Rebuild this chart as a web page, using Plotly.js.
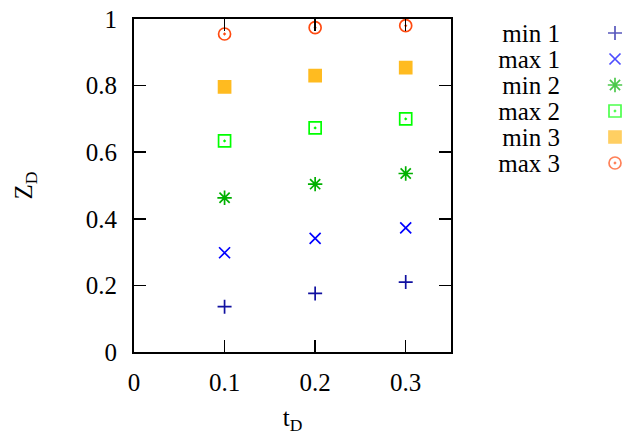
<!DOCTYPE html>
<html>
<head>
<meta charset="utf-8">
<script src="https://cdn.plot.ly/plotly-3.0.1.min.js"></script>
<style>html,body{margin:0;padding:0;background:#fff;}#chart{width:626px;height:441px;}</style>
</head>
<body>
<div id="chart"></div>
<script>
var tD = [0.1, 0.2, 0.3];
var seriesNames = ["min 1", "max 1", "min 2", "max 2", "min 3", "max 3"];
var min1 = [0.136, 0.176, 0.210];
var max1 = [0.298, 0.341, 0.373];
var min2 = [0.463, 0.504, 0.536];
var max2 = [0.634, 0.673, 0.700];
var min3 = [0.796, 0.830, 0.854];
var max3 = [0.955, 0.974, 0.980];
var xTicks = [0, 0.1, 0.2, 0.3];
var yTicks = [0, 0.2, 0.4, 0.6, 0.8, 1];

var seriesValues = [min1, max1, min2, max2, min3, max3];
var symbols = ["cross-thin-open", "x-thin-open", "asterisk-open", "square-open-dot", "square", "circle-open-dot"];
var colors = ["#1010a0", "#0000ff", "#00b000", "#00ff00", "#ffbb20", "#ff4a10"];
var sizes = [10, 11, 12, 12, 12, 12];

var traces = seriesValues.map(function (vals, i) {
  return {
    x: tD, y: vals, type: "scatter", mode: "markers",
    name: seriesNames[i],
    marker: {symbol: symbols[i], color: colors[i], size: sizes[i], line: {color: colors[i], width: 1.7}},
    cliponaxis: false, xaxis: "x", yaxis: "y"
  };
});

// key drawn as one marker per series on a small side axis, labelled by the series names
traces.push({
  x: seriesNames.map(function () { return 0; }), y: seriesNames,
  type: "scatter", mode: "markers", xaxis: "x2", yaxis: "y2", showlegend: false,
  marker: {symbol: symbols, color: colors, size: sizes, line: {color: colors, width: 1.7}},
  cliponaxis: false
});

var fam = "'Liberation Serif', 'Times New Roman', serif";
var font = {family: fam, size: 25, color: "#000"};
var W = 626 - 134;

var layout = {
  width: 626, height: 441,
  margin: {l: 134, r: 0, t: 19, b: 89},
  paper_bgcolor: "#fff", plot_bgcolor: "rgba(0,0,0,0)",
  font: font,
  showlegend: false,
  xaxis: {
    domain: [0, 317 / W], anchor: "y",
    range: [0, 0.35], tickvals: xTicks, ticktext: xTicks.map(String),
    ticks: "inside", ticklen: 12, tickwidth: 1.5, tickcolor: "#000",
    showline: true, linecolor: "#000", linewidth: 2, mirror: "ticks",
    showgrid: false, zeroline: false, ticklabelstandoff: 7,
    title: {text: "t<sub>D</sub>", font: font, standoff: 13}
  },
  yaxis: {
    domain: [0, 1], anchor: "x",
    range: [0, 1], tickvals: yTicks, ticktext: yTicks.map(String),
    ticks: "inside", ticklen: 12, tickwidth: 1.5, tickcolor: "#000",
    showline: true, linecolor: "#000", linewidth: 2, mirror: "ticks",
    showgrid: false, zeroline: false, ticklabelstandoff: 10,
    title: {text: "Z<sub>D</sub>", font: font, standoff: 46}
  },
  xaxis2: {
    domain: [(605 - 134) / W, (625 - 134) / W], anchor: "y2",
    range: [-1, 1], visible: false, fixedrange: true
  },
  yaxis2: {
    domain: [1 - 157 / 333, 1 - 1 / 333], anchor: "x2",
    type: "category", categoryorder: "array", categoryarray: seriesNames,
    tickmode: "array", tickvals: seriesNames, ticktext: seriesNames,
    range: [5.5, -0.5], showline: false, showgrid: false, zeroline: false,
    ticks: "", ticklabelstandoff: 44, tickfont: font, fixedrange: true
  }
};

Plotly.newPlot("chart", traces, layout, {staticPlot: true});
</script>
</body>
</html>
